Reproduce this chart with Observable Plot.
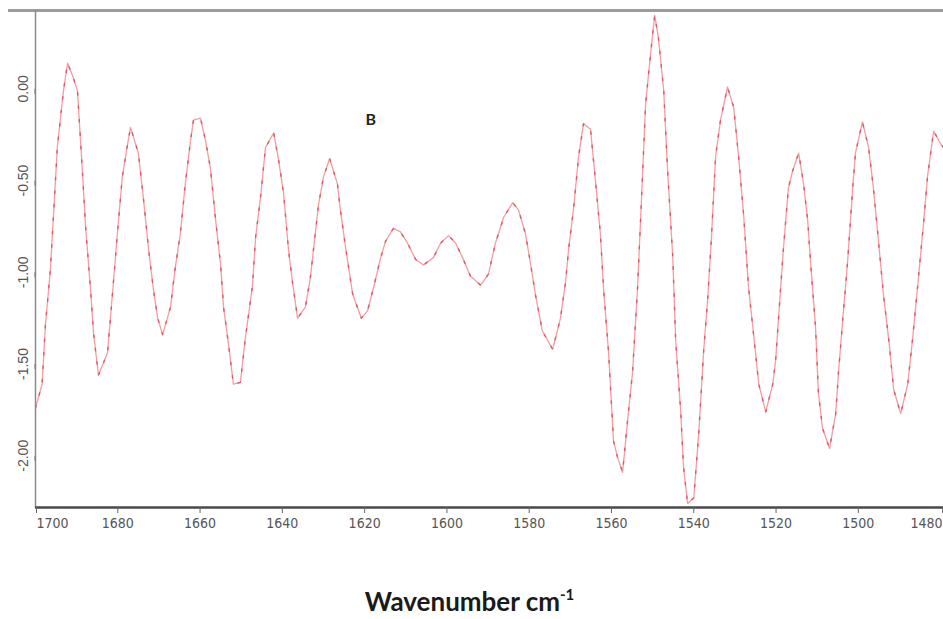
<!DOCTYPE html>
<html>
<head>
<meta charset="utf-8">
<script src="https://cdn.jsdelivr.net/npm/d3@7"></script>
<script src="https://cdn.jsdelivr.net/npm/@observablehq/plot@0.6"></script>
<style>
  html, body { margin: 0; padding: 0; background: #fff; }
  #chart svg { display: block; }
  #caption {
    width: 943px; text-align: center; margin-top: 28px;
    font-family: Lato, "Open Sans", sans-serif; font-weight: 700;
    font-size: 26px; line-height: 26px; color: #1a1a1a; padding-right: 4px; box-sizing: border-box;
  }
  #caption sup { font-size: 15px; vertical-align: 11px; line-height: 0; }
</style>
</head>
<body>
<div id="chart"></div>
<div id="caption">Wavenumber cm<sup>-1</sup></div>
<script>
const wavenumber = [
  1700.0,1698.4,1697.6,1696.4,1695.6,1694.7,1693.2,1692.2,1690.8,1689.8,
  1688.6,1687.8,1686.6,1685.9,1684.7,1682.5,1681.3,1680.1,1678.9,1677.6,
  1676.9,1675.0,1673.8,1672.5,1671.3,1670.3,1669.1,1667.2,1666.0,1664.8,
  1663.5,1662.3,1661.6,1659.9,1658.7,1657.5,1656.2,1655.0,1654.3,1653.1,
  1651.9,1650.2,1649.0,1647.3,1646.5,1645.3,1644.1,1642.1,1640.9,1639.7,
  1638.5,1637.5,1636.3,1634.4,1633.2,1632.4,1631.2,1630.0,1628.5,1626.6,
  1625.9,1624.6,1622.9,1620.8,1619.3,1617.8,1616.1,1614.9,1613.0,1611.3,
  1609.6,1607.6,1605.7,1603.3,1601.5,1599.6,1597.9,1596.2,1594.3,1591.8,
  1589.9,1588.2,1586.2,1584.0,1582.6,1580.9,1579.7,1578.5,1576.8,1574.3,
  1572.4,1571.2,1570.4,1569.2,1568.0,1566.8,1565.1,1563.9,1562.7,1561.9,
  1560.7,1559.5,1558.5,1557.3,1556.1,1554.9,1553.7,1552.9,1551.7,1550.5,
  1549.5,1548.6,1547.3,1546.4,1545.1,1544.4,1543.2,1542.5,1541.5,1540.0,
  1538.8,1537.6,1536.6,1535.7,1534.7,1533.5,1531.8,1530.3,1529.1,1527.9,
  1526.7,1525.5,1524.2,1522.5,1520.8,1520.1,1519.4,1518.2,1517.0,1516.0,
  1514.5,1513.3,1512.3,1511.6,1510.4,1509.7,1508.7,1507.0,1505.5,1504.8,
  1503.8,1502.6,1501.4,1500.7,1499.0,1497.5,1496.3,1495.1,1493.9,1492.6,
  1491.4,1489.7,1488.0,1486.8,1485.6,1484.1,1483.2,1481.7,1480.0,1479.3
];
const absorbance = [
  -1.74,-1.61,-1.29,-0.99,-0.68,-0.32,-0.01,0.14,0.06,-0.01,
  -0.45,-0.76,-1.10,-1.33,-1.56,-1.44,-1.12,-0.79,-0.48,-0.30,
  -0.21,-0.35,-0.59,-0.88,-1.10,-1.25,-1.34,-1.19,-0.97,-0.79,
  -0.50,-0.28,-0.17,-0.16,-0.28,-0.43,-0.72,-0.96,-1.19,-1.39,
  -1.61,-1.60,-1.36,-1.08,-0.81,-0.59,-0.32,-0.24,-0.39,-0.57,
  -0.88,-1.06,-1.25,-1.19,-1.03,-0.87,-0.63,-0.48,-0.38,-0.52,
  -0.66,-0.87,-1.12,-1.25,-1.21,-1.08,-0.92,-0.83,-0.76,-0.78,
  -0.84,-0.93,-0.96,-0.92,-0.84,-0.80,-0.84,-0.92,-1.02,-1.07,
  -1.01,-0.84,-0.70,-0.62,-0.66,-0.79,-0.95,-1.12,-1.32,-1.42,
  -1.25,-1.06,-0.87,-0.65,-0.37,-0.19,-0.22,-0.50,-0.79,-1.10,
  -1.44,-1.92,-2.01,-2.09,-1.81,-1.55,-1.10,-0.70,-0.08,0.19,
  0.40,0.28,-0.01,-0.43,-0.92,-1.37,-1.75,-2.06,-2.26,-2.23,
  -1.88,-1.43,-1.14,-0.81,-0.37,-0.17,0.01,-0.10,-0.37,-0.68,
  -1.08,-1.33,-1.61,-1.76,-1.61,-1.48,-1.25,-0.87,-0.54,-0.45,
  -0.35,-0.52,-0.72,-0.95,-1.30,-1.66,-1.85,-1.96,-1.77,-1.54,
  -1.26,-0.94,-0.55,-0.35,-0.18,-0.32,-0.55,-0.83,-1.12,-1.37,
  -1.64,-1.77,-1.61,-1.36,-1.08,-0.72,-0.48,-0.23,-0.30,-0.32
];
const xTicks = [1700, 1680, 1660, 1640, 1620, 1600, 1580, 1560, 1540, 1520, 1500, 1480];
const yTicks = [0, -0.5, -1, -1.5, -2];
const xDomain = [1700, 1479.3];
const yDomain = [-2.282, 0.427];
const annotation = [{w: 1618.5, v: -0.17, text: "B"}];

const data = wavenumber.map((w, i) => ({w, v: absorbance[i]}));
const tickFont = "'Liberation Sans Narrow', 'Arial Narrow', 'DejaVu Sans Condensed', sans-serif";
const xAxisStyle = {
  tickSize: 6, tickPadding: 5, stroke: "#666", fill: "#555",
  fontSize: 14, fontFamily: tickFont, tickFormat: d => String(d), label: null
};

const chart = Plot.plot({
  width: 943,
  height: 560,
  marginLeft: 35,
  marginRight: 0,
  marginTop: 10,
  marginBottom: 53,
  x: {domain: xDomain},
  y: {domain: yDomain},
  marks: [
    Plot.line(data, {x: "w", y: "v", stroke: "#f59d9f", strokeWidth: 1.3, clip: true}),
    Plot.line(data, {x: "w", y: "v", stroke: "#da5a6e", strokeWidth: 1.4, strokeDasharray: "2.5,11", clip: true}),
    Plot.ruleY([yDomain[1]], {stroke: "#9c9c9c", strokeWidth: 3, insetLeft: -27}),
    Plot.ruleX([xDomain[0]], {stroke: "#8c8c8c", strokeWidth: 1.5}),
    Plot.ruleY([yDomain[0]], {stroke: "#484848", strokeWidth: 2.5}),
    Plot.axisX(xTicks.slice(1, -1), xAxisStyle),
    Plot.axisX([xTicks[0]], {...xAxisStyle, textAnchor: "start", dx: 1}),
    Plot.axisX([xTicks[xTicks.length - 1]], {...xAxisStyle, textAnchor: "end", dx: 2}),
    Plot.axisY(yTicks, {
      tickSize: 5, tickPadding: 3, stroke: "#777", fill: "#555",
      rotate: -90, textAnchor: "middle", lineAnchor: "bottom",
      fontSize: 14, fontFamily: "'Liberation Sans', Arial, sans-serif",
      tickFormat: d => d.toFixed(2), label: null
    }),
    Plot.text(annotation, {
      x: "w", y: "v", text: "text", fill: "#222", fontWeight: "bold",
      fontSize: 16, fontFamily: "Lato, 'Open Sans', sans-serif"
    })
  ]
});
document.getElementById("chart").appendChild(chart);
</script>
</body>
</html>
